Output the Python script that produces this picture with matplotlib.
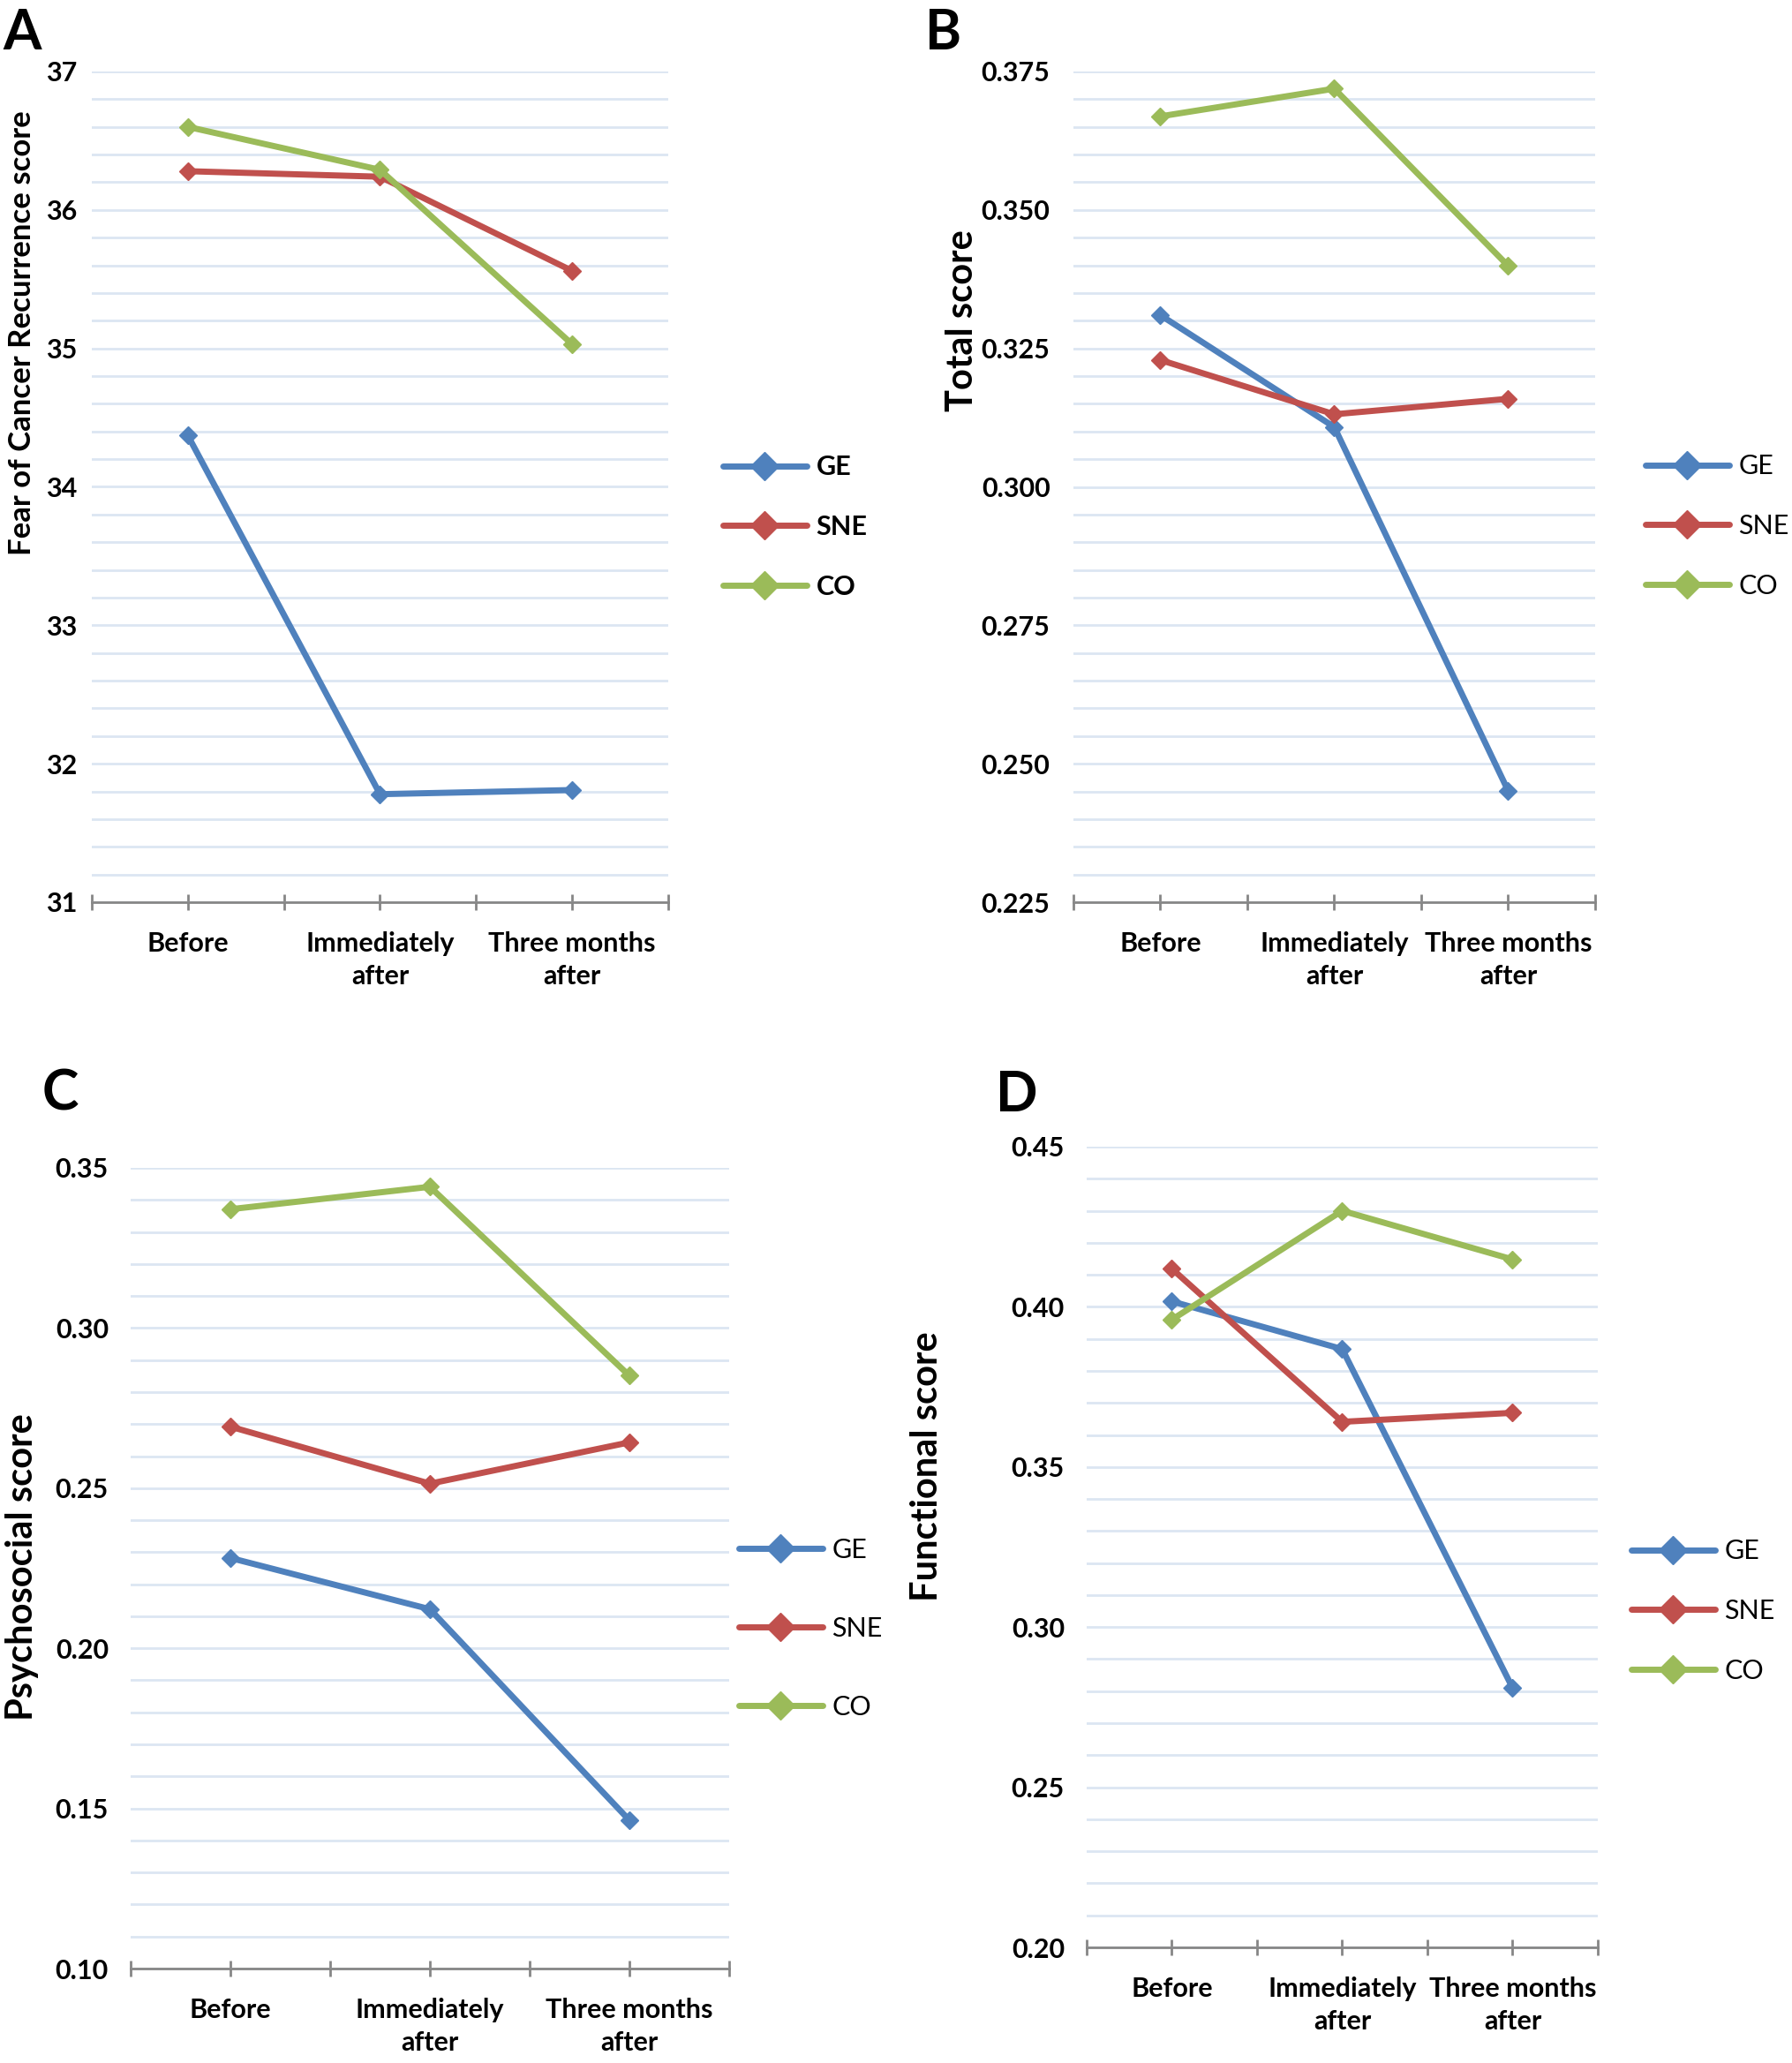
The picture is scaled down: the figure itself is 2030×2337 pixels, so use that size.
import matplotlib
matplotlib.use("Agg")
import matplotlib.pyplot as plt
from matplotlib.ticker import MultipleLocator, FixedLocator, FuncFormatter

plt.rcParams['font.family'] = ['Lato', 'DejaVu Sans']

categories = ["Before", "Immediately\nafter", "Three months\nafter"]
groups = ["GE", "SNE", "CO"]
colors = ["#4F81BD", "#C0504D", "#9BBB59"]

# Panel A: Fear of Cancer Recurrence score
fcr_ge = [34.37, 31.78, 31.81]
fcr_sne = [36.28, 36.24, 35.56]
fcr_co = [36.60, 36.29, 35.03]

# Panel B: Total score
total_ge = [0.331, 0.3108, 0.2451]
total_sne = [0.3229, 0.3131, 0.3159]
total_co = [0.3669, 0.3719, 0.3399]

# Panel C: Psychosocial score
psy_ge = [0.2282, 0.2122, 0.1463]
psy_sne = [0.2692, 0.2514, 0.2643]
psy_co = [0.3371, 0.3441, 0.2851]

# Panel D: Functional score
fun_ge = [0.4017, 0.3868, 0.281]
fun_sne = [0.4119, 0.3641, 0.3669]
fun_co = [0.396, 0.430, 0.4148]

W, H = 2031, 2337
fig = plt.figure(figsize=(W / 100, H / 100), dpi=100)


def fx(px):
    return px / W


def fy(py):
    return 1 - py / H


panels = [
    dict(letter="A", series=[fcr_ge, fcr_sne, fcr_co], ylim=(31, 37), major=1, minor=0.2, fmt="{:.0f}",
         box=(104, 81, 757, 1022), ylabel="Fear of Cancer Recurrence score", ylab_pos=(25, 377), ylab_size=25,
         letter_pos=(25, 38), leg_pos=(819, 597), leg_bold=True, leg_space=1.3, ypad=12),
    dict(letter="B", series=[total_ge, total_sne, total_co], ylim=(0.225, 0.375), major=0.025, minor=0.005,
         fmt="{:.3f}", box=(1216, 81, 1807, 1022), ylabel="Total score", ylab_pos=(1090, 363), ylab_size=30,
         letter_pos=(1069, 38), leg_pos=(1864, 596), leg_bold=False, leg_space=1.3, ypad=19),
    dict(letter="C", series=[psy_ge, psy_sne, psy_co], ylim=(0.10, 0.35), major=0.05, minor=0.01, fmt="{:.2f}",
         box=(148, 1323, 826, 2230), ylabel="Psychosocial score", ylab_pos=(25, 1775), ylab_size=30,
         letter_pos=(68, 1240), leg_pos=(837, 1845), leg_bold=False, leg_space=2.0, ypad=18),
    dict(letter="D", series=[fun_ge, fun_sne, fun_co], ylim=(0.20, 0.45), major=0.05, minor=0.01, fmt="{:.2f}",
         box=(1231, 1299, 1810, 2206), ylabel="Functional score", ylab_pos=(1050, 1661), ylab_size=30,
         letter_pos=(1152, 1241), leg_pos=(1848, 1825), leg_bold=False, leg_space=1.3, ypad=18),
]

x = [1, 2, 3]
for p in panels:
    l, t, r, b = p["box"]
    ax = fig.add_axes([fx(l), fy(b), fx(r) - fx(l), fy(t) - fy(b)])
    handles = []
    for vals, name, c in zip(p["series"], groups, colors):
        h, = ax.plot(x, vals, color=c, lw=5, marker="D", ms=10, mec=c, mew=1,
                     solid_joinstyle="round", solid_capstyle="round", clip_on=False, zorder=3, label=name)
        handles.append(h)
    ax.set_xlim(0.5, 3.5)
    ax.set_ylim(*p["ylim"])
    ax.yaxis.set_major_locator(MultipleLocator(p["major"]))
    ax.yaxis.set_minor_locator(MultipleLocator(p["minor"]))
    fmt = p["fmt"]
    ax.yaxis.set_major_formatter(FuncFormatter(lambda v, pos, fmt=fmt: fmt.format(v)))
    ax.grid(True, axis="y", which="both", color="#DCE6F2", lw=2.0, zorder=0)
    ax.set_axisbelow(True)
    ax.xaxis.set_major_locator(FixedLocator(x))
    ax.xaxis.set_minor_locator(FixedLocator([0.5, 1.5, 2.5, 3.5]))
    ax.set_xticklabels(categories, fontsize=22, fontweight="bold", linespacing=1.4)
    ax.tick_params(axis="x", which="both", direction="inout", length=13, width=2, color="#868686", pad=17)
    ax.tick_params(axis="y", which="both", length=0, pad=p["ypad"], labelsize=22)
    for lab in ax.get_yticklabels():
        lab.set_fontweight("bold")
    for s in ["left", "right", "top"]:
        ax.spines[s].set_visible(False)
    ax.spines["bottom"].set_color("#868686")
    ax.spines["bottom"].set_linewidth(2)
    ax.spines["bottom"].set_zorder(2)

    fig.text(fx(p["ylab_pos"][0]), fy(p["ylab_pos"][1]), p["ylabel"], rotation=90, ha="center", va="center",
             fontsize=p["ylab_size"], fontweight="bold")
    fig.text(fx(p["letter_pos"][0]), fy(p["letter_pos"][1]), p["letter"], ha="center", va="center",
             fontsize=45, fontweight="bold")

    ax.legend(handles=handles, loc="center left",
              bbox_to_anchor=(fx(p["leg_pos"][0]), fy(p["leg_pos"][1])),
              bbox_transform=fig.transFigure, frameon=False, borderpad=0, borderaxespad=0,
              handlelength=3.1, handletextpad=0.35, labelspacing=p["leg_space"],
              markerscale=1.6, prop={"size": 22, "weight": "bold" if p["leg_bold"] else "normal"})

fig.savefig("out.png", dpi=100, facecolor="white")
